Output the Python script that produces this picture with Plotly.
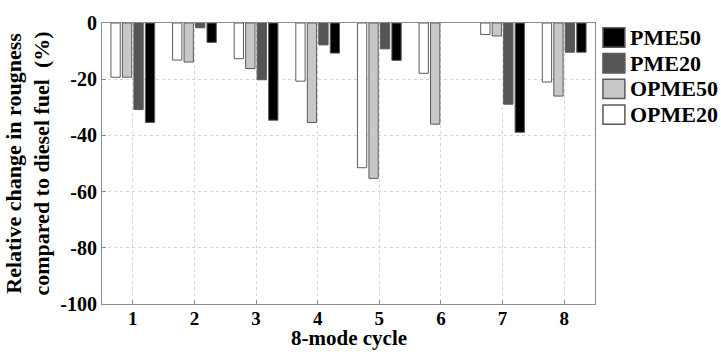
import plotly.graph_objects as go

cycles = [1, 2, 3, 4, 5, 6, 7, 8]
opme20 = [-19.3, -13.2, -12.7, -20.7, -51.5, -17.9, -4.1, -21.0]
opme50 = [-19.3, -13.9, -16.2, -35.4, -55.3, -36.0, -4.6, -26.0]
pme20 = [-30.8, -1.7, -20.2, -7.8, -9.2, None, -28.9, -10.4]
pme50 = [-35.4, -6.9, -34.6, -10.7, -13.3, None, -38.9, -10.4]

y_tickvals = [-100, -80, -60, -40, -20, 0]
y_ticktext = ["-100", "-80", "-60", "-40", "-20", "0"]
x_ticktext = ["1", "2", "3", "4", "5", "6", "7", "8"]

series = [
    ("OPME20", opme20, "#ffffff"),
    ("OPME50", opme50, "#c8c8c8"),
    ("PME20", pme20, "#555555"),
    ("PME50", pme50, "#000000"),
]

FONT = "Times New Roman, Liberation Serif, serif"
OUTLINE = "#5a5a5a"

fig = go.Figure()
for name, vals, color in series:
    fig.add_trace(go.Bar(
        x=cycles, y=vals, name=name, showlegend=False,
        marker=dict(color=color, line=dict(color=OUTLINE, width=1)),
    ))

# custom legend (larger swatches, as in the reference), listed in reverse order
shapes = []
annotations = []
top_px, step_px, box_h, box_w = 19, 26.5, 20, 22
for i, (name, vals, color) in enumerate(reversed(series)):
    yc = top_px + box_h / 2 + i * step_px
    shapes.append(dict(type="rect", xref="paper", yref="paper",
                       x0=(603 - 100) / 495, x1=(603 + box_w - 100) / 495,
                       y0=1 - (yc - box_h / 2 - 14) / 290, y1=1 - (yc + box_h / 2 - 14) / 290,
                       fillcolor=color, line=dict(color=OUTLINE, width=1.5)))
    annotations.append(dict(xref="paper", yref="paper", x=(628 - 100) / 495,
                            y=1 - (yc - 14) / 290, xanchor="left", yanchor="middle",
                            text=name, showarrow=False,
                            font=dict(size=22, family=FONT, weight="bold", color="black")))

# x-axis title placed just below the tick labels
annotations.append(dict(xref="paper", yref="paper", x=0.5, y=-(353 - 304) / 290,
                        xanchor="center", yanchor="bottom", text="8-mode cycle",
                        showarrow=False, borderpad=0,
                        font=dict(size=21, family=FONT, weight="bold", color="black")))

fig.update_layout(
    width=721, height=352,
    margin=dict(l=100, r=126, t=14, b=48),
    paper_bgcolor="white", plot_bgcolor="white",
    barmode="group", bargap=0.255, bargroupgap=0.19,
    font=dict(family=FONT, size=20, color="black", weight="bold"),
    showlegend=False,
    shapes=shapes, annotations=annotations,
)
fig.update_xaxes(
    range=[0.5, 8.5], tickvals=cycles, ticktext=x_ticktext,
    showgrid=True, gridcolor="#d4d4d4", griddash="dot", gridwidth=1,
    showline=True, linecolor="#8c8c8c", linewidth=1, mirror=True,
    ticks="inside", ticklen=4, tickcolor="#8c8c8c", ticklabelstandoff=-3,
    tickfont=dict(size=19, family=FONT, weight="bold"),
    automargin=False,
    zeroline=False,
)
fig.update_yaxes(
    range=[-100, 0], tickvals=y_tickvals, ticktext=y_ticktext,
    showgrid=True, gridcolor="#d4d4d4", griddash="dot", gridwidth=1,
    showline=True, linecolor="#8c8c8c", linewidth=1, mirror=True,
    ticks="inside", ticklen=4, tickcolor="#8c8c8c",
    tickfont=dict(size=20, family=FONT, weight="bold"),
    title=dict(text="Relative change in rougness<br>compared to diesel fuel  (%)",
               font=dict(size=22, family=FONT, weight="bold"), standoff=4),
    zeroline=False,
)

fig.write_html("out.html")
